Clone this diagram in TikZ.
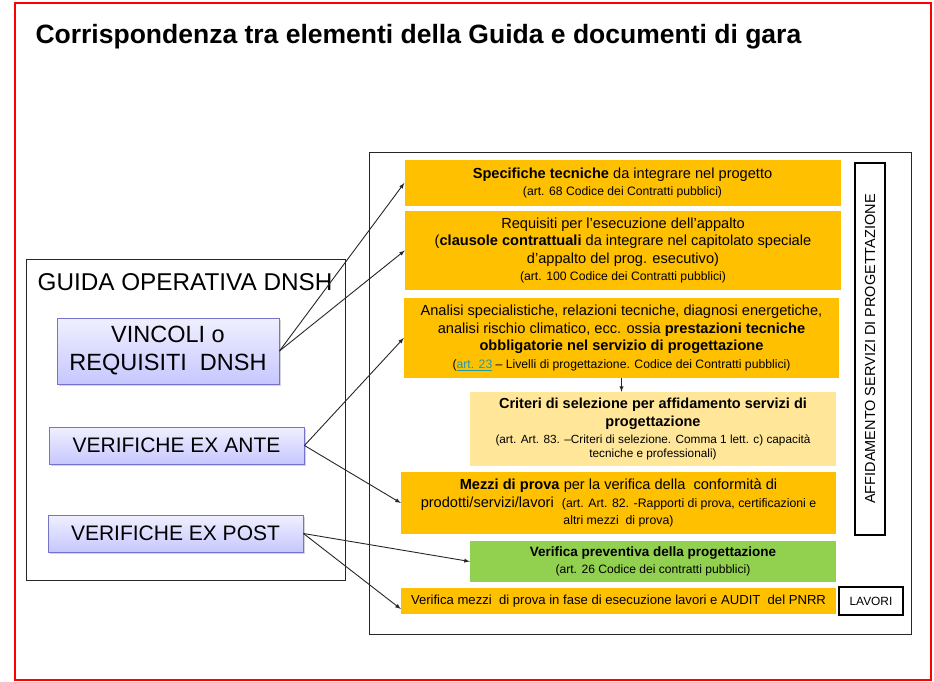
\documentclass[tikz,border=0pt]{standalone}
\usepackage{fontspec}
\setmainfont{Liberation Sans}
\usetikzlibrary{shadows}
\definecolor{arancio}{HTML}{FFC000}
\definecolor{giallino}{HTML}{FFE699}
\definecolor{verde}{HTML}{92D050}
\definecolor{lilla}{HTML}{7474CC}
\definecolor{collegamento}{HTML}{1F9CA8}
\newcommand{\testo}{\fontsize{14.6}{17.5}\selectfont}
\newcommand{\rif}{\fontsize{12.2}{15}\selectfont}
\tikzset{
	arancione/.style={fill=arancio, align=center, inner sep=1pt, font=\testo},
	cornice/.style={draw=black!85, line width=0.8pt},
	dnsh/.style={draw=lilla, line width=0.9pt, top color=blue!6, bottom color=blue!22,
		drop shadow={opacity=0.35, shadow xshift=1.5pt, shadow yshift=-1.5pt},
		align=center, font=\fontsize{21}{28}\selectfont},
	etichetta/.style={draw=black, line width=1.8pt, align=center},
	freccia/.style={-latex, line width=0.9pt, black!85}
}

\begin{document}
\begin{tikzpicture}[x=1pt, y=-1pt]
		\useasboundingbox (0,0) rectangle (934,682);
		\draw [red, line width=2.5pt](15,3) rectangle (931,680);
		\node [anchor=base west, font=\fontsize{26.5}{30}\selectfont\bfseries](titolo)at (32,44) {Corrispondenza tra elementi della Guida e documenti di gara};

		% lato sinistro
		\node [cornice, minimum width=319pt, minimum height=321pt](guida)at (185.5,419.5) {};
		\node [font=\fontsize{24.3}{28}\selectfont](guidatesto)at (185,282) {GUIDA OPERATIVA DNSH};
		\node [dnsh, minimum width=222pt, minimum height=66pt, font=\fontsize{23.5}{28}\selectfont](vincoli)at (168,351) {VINCOLI o\\REQUISITI~ DNSH};
		\node [dnsh, minimum width=255pt, minimum height=37pt](exante)at (176.5,445.5) {VERIFICHE EX ANTE};
		\node [dnsh, minimum width=255pt, minimum height=37pt](expost)at (175.5,533.5) {VERIFICHE EX POST};

		% lato destro
		\node [cornice, minimum width=542pt, minimum height=482pt](gara)at (640,393) {};
		\node [arancione, minimum width=436pt, minimum height=46pt](specifiche)at (622.5,183) {\textbf{Specifiche tecniche} da integrare nel progetto\\\rif(art. 68 Codice dei Contratti pubblici)};
		\node [arancione, minimum width=436pt, minimum height=79pt](requisiti)at (623,250.5) {Requisiti per l'esecuzione dell’appalto\\(\textbf{clausole contrattuali} da integrare nel capitolato speciale\\d’appalto del prog. esecutivo)\\\rif(art. 100 Codice dei Contratti pubblici)};
		\node [arancione, minimum width=435pt, minimum height=80pt](analisi)at (621.5,338) {Analisi specialistiche, relazioni tecniche, diagnosi energetiche,\\analisi rischio climatico, ecc. ossia \textbf{prestazioni tecniche}\\\bfseries obbligatorie nel servizio di progettazione\\\rif(\textcolor{collegamento}{\underline{art. 23}} – Livelli di progettazione. Codice dei Contratti pubblici)};
		\node [arancione, fill=giallino, minimum width=366pt, minimum height=74pt, font=\fontsize{14.5}{17.5}\selectfont\bfseries](criteri)at (653,429) {Criteri di selezione per affidamento servizi di\\progettazione\\\mdseries\fontsize{11.8}{14.5}\selectfont(art. Art. 83. –Criteri di selezione. Comma 1 lett. c) capacità\\[-4pt]\mdseries\fontsize{11.8}{14.5}\selectfont tecniche e professionali)};
		\node [arancione, minimum width=435pt, minimum height=62pt](mezzi)at (618.5,503) {\textbf{Mezzi di prova} per la verifica della~ conformità di\\prodotti/servizi/lavori~ {\fontsize{12.3}{15}\selectfont(art. Art. 82. -Rapporti di prova, certificazioni e}\\\fontsize{12.3}{15}\selectfont altri mezzi~ di prova)};
		\node [arancione, fill=verde, minimum width=366pt, minimum height=41pt, font=\fontsize{13.5}{17}\selectfont\bfseries](preventiva)at (653,561.5) {Verifica preventiva della progettazione\\\mdseries\fontsize{12.1}{15}\selectfont(art. 26 Codice dei contratti pubblici)};
		\node [arancione, minimum width=435pt, minimum height=26pt, font=\fontsize{13.1}{15}\selectfont](verificamezzi)at (618.5,601) {Verifica mezzi~ di prova in fase di esecuzione lavori e AUDIT~ del PNRR};
		\node [etichetta, minimum width=30pt, minimum height=372pt](affidamento)at (870,349) {};
		\node [rotate=90, font=\fontsize{14.5}{16}\selectfont](affidamentotesto)at (affidamento) {AFFIDAMENTO SERVIZI DI PROGETTAZIONE};
		\node [etichetta, minimum width=64pt, minimum height=28pt, font=\fontsize{11.9}{14}\selectfont](lavori)at (871,601) {LAVORI};

		% collegamenti
		\draw [freccia](vincoli.east)--(specifiche.west);
		\draw [freccia](vincoli.east)--(requisiti.west);
		\draw [freccia](exante.east)--(analisi.west);
		\draw [freccia](exante.east)--(mezzi.west);
		\draw [freccia](expost.east)--(preventiva.west);
		\draw [freccia](expost.east)--([yshift=-8pt]verificamezzi.west);
		\draw [freccia](analisi.south)--(analisi.south |- criteri.north);
	\end{tikzpicture}
\end{document}
